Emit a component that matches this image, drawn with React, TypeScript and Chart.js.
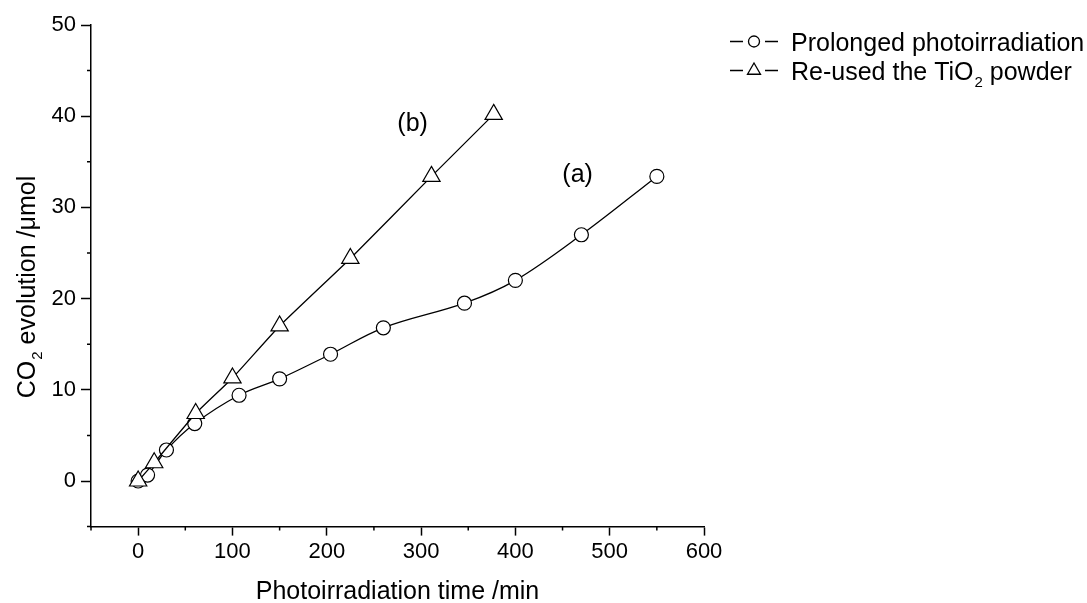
import React, { useEffect, useRef } from "react";
import { Chart, registerables } from "chart.js";

Chart.register(...registerables);

// Series (a): prolonged photoirradiation
const timeA = [0, 10, 30, 60, 107, 150, 204, 260, 346, 400, 470, 550];
const co2A = [0, 0.65, 3.4, 6.3, 9.4, 11.2, 13.9, 16.8, 19.5, 22.0, 27.0, 33.4];
// Series (b): re-used TiO2 powder
const timeB = [0, 17, 61, 100, 150, 225, 311, 377];
const co2B = [0, 2.0, 7.4, 11.3, 17.0, 24.4, 33.4, 40.2];

const legendA = "Prolonged photoirradiation";
const legendBPre = "Re-used the TiO";
const legendBSub = "2";
const legendBPost = " powder";
const xTitle = "Photoirradiation time /min";
const yTitlePre = "CO";
const yTitleSub = "2";
const yTitlePost = " evolution /\u03bcmol";
const annotA = { text: "(a)", x: 466, y: 33.5 };
const annotB = { text: "(b)", x: 291, y: 39.1 };

const xMin = -50, xMax = 600, xStep = 100;
const yMin = -5, yMax = 50, yStep = 10;

const FONT = "'Liberation Sans', Arial, Helvetica, sans-serif";

function drawSubText(ctx: CanvasRenderingContext2D, x: number, y: number, pre: string, sub: string, post: string, size: number) {
  ctx.font = `${size}px ${FONT}`;
  const w1 = ctx.measureText(pre).width;
  ctx.fillText(pre, x, y);
  ctx.font = `${Math.round(size * 0.6)}px ${FONT}`;
  const w2 = ctx.measureText(sub).width;
  ctx.fillText(sub, x + w1 + 1, y + 7);
  ctx.font = `${size}px ${FONT}`;
  ctx.fillText(post, x + w1 + 1 + w2, y);
}

function subTextWidth(ctx: CanvasRenderingContext2D, pre: string, sub: string, post: string, size: number) {
  ctx.font = `${size}px ${FONT}`;
  const a = ctx.measureText(pre).width + ctx.measureText(post).width;
  ctx.font = `${Math.round(size * 0.6)}px ${FONT}`;
  return a + ctx.measureText(sub).width + 1;
}

const decor = {
  id: "decor",
  afterDraw(chart: any) {
    const { ctx, chartArea } = chart;
    const x = chart.scales.x;
    const y = chart.scales.y;
    ctx.save();
    ctx.strokeStyle = "#000";
    ctx.fillStyle = "#000";
    ctx.lineWidth = 1.5;
    // minor ticks
    ctx.beginPath();
    for (let v = xMin; v <= xMax; v += xStep) {
      const px = x.getPixelForValue(v);
      if (v % xStep !== 0) {
        ctx.moveTo(px, chartArea.bottom);
        ctx.lineTo(px, chartArea.bottom + 4);
      }
    }
    for (let v = yMin; v <= yMax; v += yStep) {
      const py = y.getPixelForValue(v);
      if (v % yStep !== 0) {
        ctx.moveTo(chartArea.left, py);
        ctx.lineTo(chartArea.left - 4, py);
      }
    }
    ctx.stroke();

    // annotations
    ctx.font = `25px ${FONT}`;
    ctx.textAlign = "center";
    ctx.textBaseline = "middle";
    for (const a of [annotA, annotB]) {
      ctx.fillText(a.text, x.getPixelForValue(a.x), y.getPixelForValue(a.y));
    }

    // x title
    ctx.textAlign = "center";
    ctx.textBaseline = "alphabetic";
    ctx.font = `25px ${FONT}`;
    ctx.fillText(xTitle, (chartArea.left + chartArea.right) / 2, 599);

    // y title
    ctx.save();
    ctx.translate(35, 287);
    ctx.rotate(-Math.PI / 2);
    ctx.textAlign = "left";
    const tw = subTextWidth(ctx, yTitlePre, yTitleSub, yTitlePost, 25);
    drawSubText(ctx, -tw / 2, 0, yTitlePre, yTitleSub, yTitlePost, 25);
    ctx.restore();

    // legend
    ctx.textAlign = "left";
    ctx.textBaseline = "alphabetic";
    ctx.lineWidth = 1.3;
    const rows = [41.5, 70.5];
    rows.forEach((ry, i) => {
      ctx.beginPath();
      ctx.moveTo(730, ry);
      ctx.lineTo(743, ry);
      ctx.moveTo(765, ry);
      ctx.lineTo(778, ry);
      ctx.stroke();
      ctx.beginPath();
      if (i === 0) {
        ctx.arc(754, ry, 5.5, 0, Math.PI * 2);
      } else {
        const r = 7.5;
        ctx.moveTo(754, ry - r);
        ctx.lineTo(754 + r * Math.sin((2 * Math.PI) / 3), ry - r * Math.cos((2 * Math.PI) / 3));
        ctx.lineTo(754 + r * Math.sin((4 * Math.PI) / 3), ry - r * Math.cos((4 * Math.PI) / 3));
        ctx.closePath();
      }
      ctx.fillStyle = "#fff";
      ctx.fill();
      ctx.stroke();
      ctx.fillStyle = "#000";
    });
    ctx.font = `25px ${FONT}`;
    ctx.fillText(legendA, 791, 51);
    drawSubText(ctx, 791, 80, legendBPre, legendBSub, legendBPost, 25);
    ctx.restore();
  },
};

export default function App() {
  const ref = useRef<HTMLCanvasElement | null>(null);
  useEffect(() => {
    document.body.style.margin = "0";
    const canvas = ref.current;
    if (!canvas) return;
    const tickFont = { family: FONT, size: 22 };
    const chart = new Chart(canvas, {
      type: "scatter",
      data: {
        datasets: [
          {
            label: "Re-used the TiO2 powder",
            data: timeB.map((t, i) => ({ x: t, y: co2B[i] })),
            showLine: true,
            borderColor: "#000",
            borderWidth: 1.3,
            tension: 0.15,
            pointStyle: "triangle",
            pointRadius: 10,
            pointBackgroundColor: "#fff",
            pointBorderColor: "#000",
            pointBorderWidth: 1.2,
          },
          {
            label: legendA,
            data: timeA.map((t, i) => ({ x: t, y: co2A[i] })),
            showLine: true,
            borderColor: "#000",
            borderWidth: 1.3,
            tension: 0.35,
            pointStyle: "circle",
            pointRadius: 7,
            pointBackgroundColor: "#fff",
            pointBorderColor: "#000",
            pointBorderWidth: 1.2,
          },
        ],
      },
      options: {
        animation: false,
        responsive: true,
        maintainAspectRatio: false,
        events: [],
        layout: { padding: { top: 25, right: 383, left: 0, bottom: 0 } },
        plugins: { legend: { display: false }, tooltip: { enabled: false } },
        scales: {
          x: {
            type: "linear",
            min: xMin,
            max: xMax,
            ticks: { stepSize: xStep, includeBounds: false, font: tickFont, color: "#000", padding: 3, maxRotation: 0 },
            grid: { drawOnChartArea: false, drawTicks: true, tickLength: 9, tickWidth: 1.5, tickColor: "#000" },
            border: { color: "#000", width: 1.5 },
            afterFit: (s: any) => {
              s.height = 76.4;
            },
          },
          y: {
            type: "linear",
            min: yMin,
            max: yMax,
            ticks: { stepSize: yStep, includeBounds: false, font: tickFont, color: "#000", padding: 5 },
            grid: { drawOnChartArea: false, drawTicks: true, tickLength: 10, tickWidth: 1.5, tickColor: "#000" },
            border: { color: "#000", width: 1.5 },
            afterFit: (s: any) => {
              s.width = 91;
            },
          },
        },
      },
      plugins: [decor],
    } as any);
    return () => chart.destroy();
  }, []);
  return (
    <div style={{ position: "relative", width: "1087px", height: "603px", background: "#fff" }}>
      <canvas ref={ref} />
    </div>
  );
}
